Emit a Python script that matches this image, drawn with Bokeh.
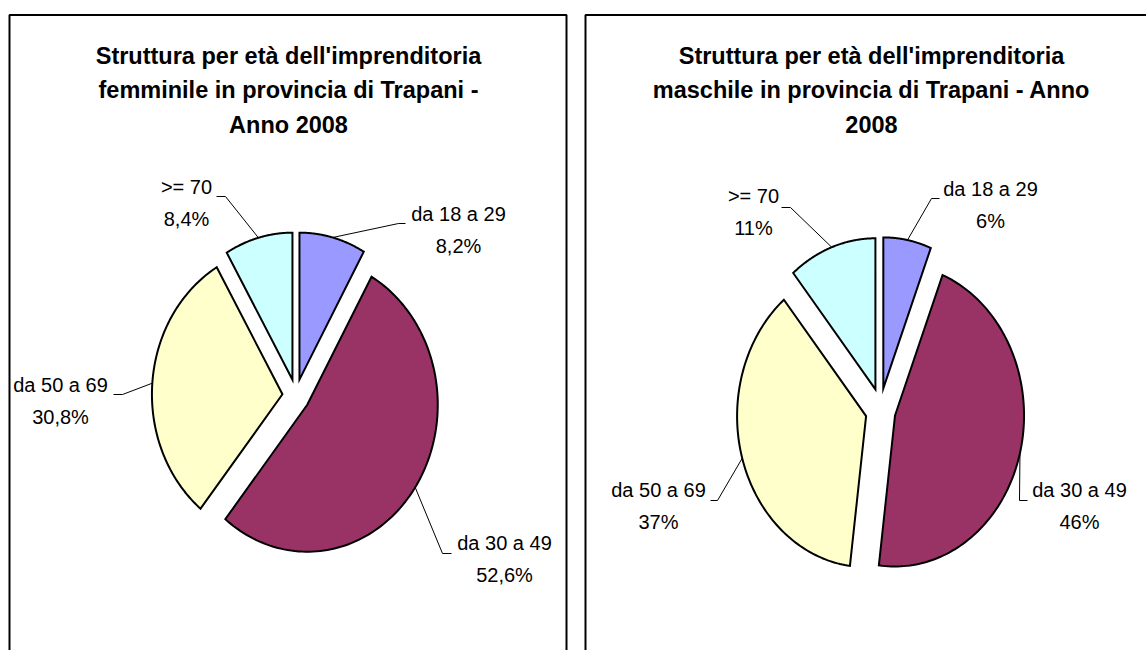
import numpy as np
from bokeh.plotting import figure
from bokeh.models import Range1d
from bokeh.core.properties import value
from bokeh.embed import file_html
from bokeh.resources import INLINE

# ---------------- data ----------------
categories = ["da 18 a 29", "da 30 a 49", "da 50 a 69", ">= 70"]
female_values = [8.2, 52.6, 30.8, 8.4]
male_values = [6, 46, 37, 11]
female_title = ["Struttura per età dell'imprenditoria",
                "femminile in provincia di Trapani -",
                "Anno 2008"]
male_title = ["Struttura per età dell'imprenditoria",
              "maschile in provincia di Trapani - Anno",
              "2008"]
colors = ["#9999FF", "#993366", "#FFFFCC", "#CCFFFF"]

# ---------------- layout ----------------
W, H = 1146, 650
FONT = value("Liberation Sans")

p = figure(width=W, height=H, x_range=Range1d(0, W), y_range=Range1d(H, 0),
           output_backend="svg", toolbar_location=None, min_border=0,
           x_axis_location=None, y_axis_location=None)
p.grid.grid_line_color = None
p.outline_line_color = None
p.background_fill_color = "white"
p.border_fill_color = "white"

# panel frames
p.line([9, 9, 566, 566], [700, 14.5, 14.5, 700], line_color="black", line_width=2)
p.line([585, 585, 1170], [700, 14.5, 14.5], line_color="black", line_width=2)


def fmt(v, dec):
    return (f"{v:.{dec}f}".replace(".", ",")) + "%"


def draw_pie(vals, dec, title, tx, cx, cy, rx, ry, ex, ey, lab_pos, elbows, ends):
    # title
    p.text(x=[tx] * len(title), y=[55 + 34.5 * i for i in range(len(title))], text=title,
           text_font=FONT, text_font_size=value("23.5px"), text_font_style="bold",
           text_align="center", text_baseline="alphabetic", text_color="black")
    v = np.array(vals, dtype=float)
    frac = v / v.sum()
    stops = np.cumsum(frac) * 2 * np.pi
    starts = np.concatenate([[0.0], stops[:-1]])
    mids = (starts + stops) / 2
    xs, ys = [], []
    lx, ly = [], []
    for a0, a1, m, el, en in zip(starts, stops, mids, elbows, ends):
        ox, oy = ex * np.sin(m), -ey * np.cos(m)
        t = np.linspace(a0, a1, 120)
        xs.append(np.concatenate([[cx + ox], cx + ox + rx * np.sin(t)]))
        ys.append(np.concatenate([[cy + oy], cy + oy - ry * np.cos(t)]))
        ax, ay = cx + ox + rx * np.sin(m), cy + oy - ry * np.cos(m)
        lx.append([ax, el[0], en[0]])
        ly.append([ay, el[1], en[1]])
    p.patches(xs, ys, fill_color=colors, line_color="black", line_width=2, line_join="miter")
    p.multi_line(lx, ly, line_color="black", line_width=1)
    pct = [fmt(x, dec) for x in vals]
    p.text(x=[q[0] for q in lab_pos] * 2,
           y=[q[1] for q in lab_pos] + [q[1] + 32 for q in lab_pos],
           text=categories + pct,
           text_font=FONT, text_font_size=value("20px"),
           text_align="center", text_baseline="alphabetic", text_color="black")


draw_pie(female_values, 1, female_title, 288,
         295.5, 395, 130.5, 147, 13.6, 16.4,
         [(458, 213), (504, 542), (60, 384), (186, 186)],
         [(398, 223), (442, 553), (122, 394), (225, 196)],
         [(405, 223), (451, 553), (113, 394), (216, 196)])

draw_pie(male_values, 0, male_title, 871,
         880, 409.5, 129, 151, 15, 22,
         [(990, 188), (1079, 489), (658, 489), (753, 195)],
         [(931, 198), (1019, 500), (717, 500), (790, 207)],
         [(939, 198), (1027, 500), (710, 500), (781, 207)])

open("out.html", "w").write(file_html(p, INLINE))
